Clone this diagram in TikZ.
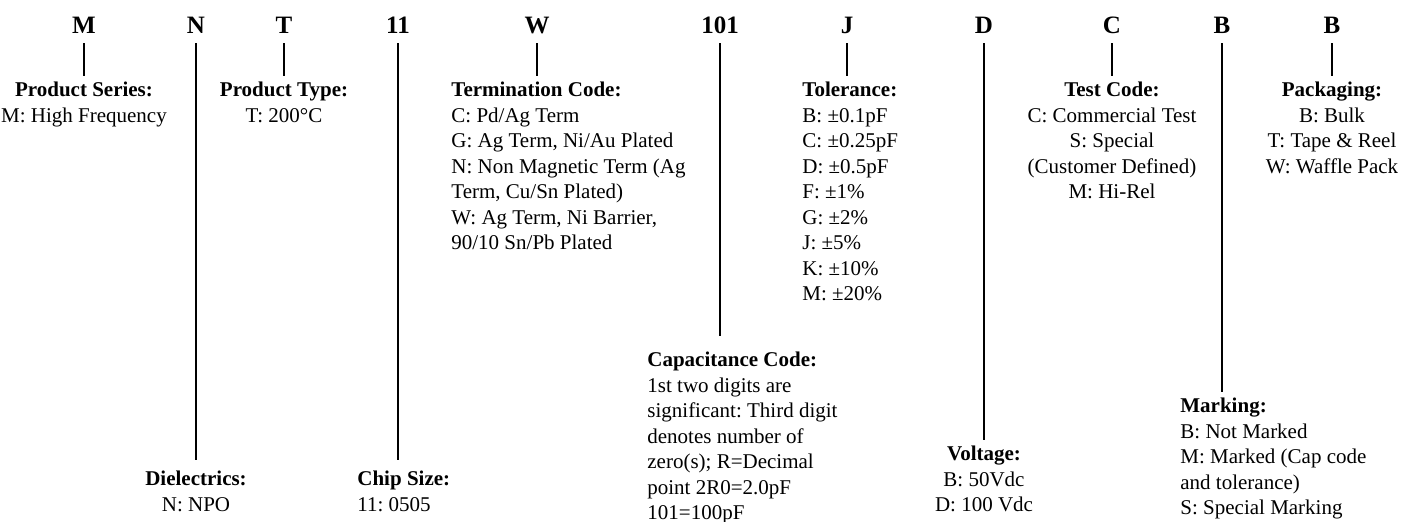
\documentclass[tikz,border=0pt]{standalone}
\usepackage{fontspec}
\setmainfont{Liberation Serif}
\frenchspacing
\tikzset{
  code/.style={font=\fontsize{12.5}{15}\selectfont\bfseries, anchor=base, inner sep=0pt, text depth=5pt},
  desc/.style={font=\fontsize{10.5}{12.75}\selectfont, inner sep=0pt},
  descc/.style={desc, align=center, anchor=north},
  descl/.style={desc, align=left, anchor=north west},
  lead/.style={line width=1pt, shorten >=3pt}
}
\begin{document}
\begin{tikzpicture}[x=0.5pt,y=-0.5pt]
  \clip (0,0) rectangle (1408,521);

  % Part number characters
  \foreach \n/\x/\t in {ser/84/M, die/196/N, typ/284/T, siz/398/11, ter/537/W,
                        cap/720/101, tol/847/J, vol/984/D, tst/1112/C, mrk/1222/B, pak/1332/B}
    \node[code] (c\n) at (\x,33) {\t};

  % Upper descriptions
  \node[descc] (ser) at (84,82) {\textbf{Product Series:}\\M: High Frequency};
  \node[descc] (typ) at (284,82) {\textbf{Product Type:}\\T: 200°C};
  \node[descl] (ter) at (451,82) {\textbf{Termination Code:}\\C: Pd/Ag Term\\G: Ag Term, Ni/Au Plated\\
    N: Non Magnetic Term (Ag\\Term, Cu/Sn Plated)\\W: Ag Term, Ni Barrier,\\90/10 Sn/Pb Plated};
  \node[descl] (tol) at (802,82) {\textbf{Tolerance:}\\B: ±0.1pF\\C: ±0.25pF\\D: ±0.5pF\\F: ±1\%\\
    G: ±2\%\\J: ±5\%\\K: ±10\%\\M: ±20\%};
  \node[descc] (tst) at (1112,82) {\textbf{Test Code:}\\C: Commercial Test\\S: Special\\(Customer Defined)\\M: Hi-Rel};
  \node[descc] (pak) at (1332,82) {\textbf{Packaging:}\\B: Bulk\\T: Tape \& Reel\\W: Waffle Pack};

  % Lower descriptions
  \node[descl] (cap) at (647,352) {\textbf{Capacitance Code:}\\1st two digits are\\significant: Third digit\\
    denotes number of\\zero(s); R=Decimal\\point 2R0=2.0pF\\101=100pF};
  \node[descl] (mrk) at (1180,398) {\textbf{Marking:}\\B: Not Marked\\M: Marked (Cap code\\and tolerance)\\S: Special Marking};
  \node[descc] (vol) at (984,446) {\textbf{Voltage:}\\B: 50Vdc\\D: 100 Vdc};
  \node[descc] (die) at (196,471) {\textbf{Dielectrics:}\\N: NPO};
  \node[descl] (siz) at (357,471) {\textbf{Chip Size:}\\11: 0505};

  % Leaders
  \foreach \n in {ser,typ,tst,pak,vol}
    \draw[lead] (c\n.south) -- (\n.north);
  \foreach \n in {ter,tol,mrk}
    \draw[lead] (c\n.south) -- (c\n.south |- \n.north);
  \draw[lead, shorten >=5.5pt] (cdie.south) -- (die.north);
  \draw[lead, shorten >=5.5pt] (csiz.south) -- (csiz.south |- siz.north);
  \draw[lead, shorten >=8pt] (ccap.south) -- (ccap.south |- cap.north);
\end{tikzpicture}
\end{document}
